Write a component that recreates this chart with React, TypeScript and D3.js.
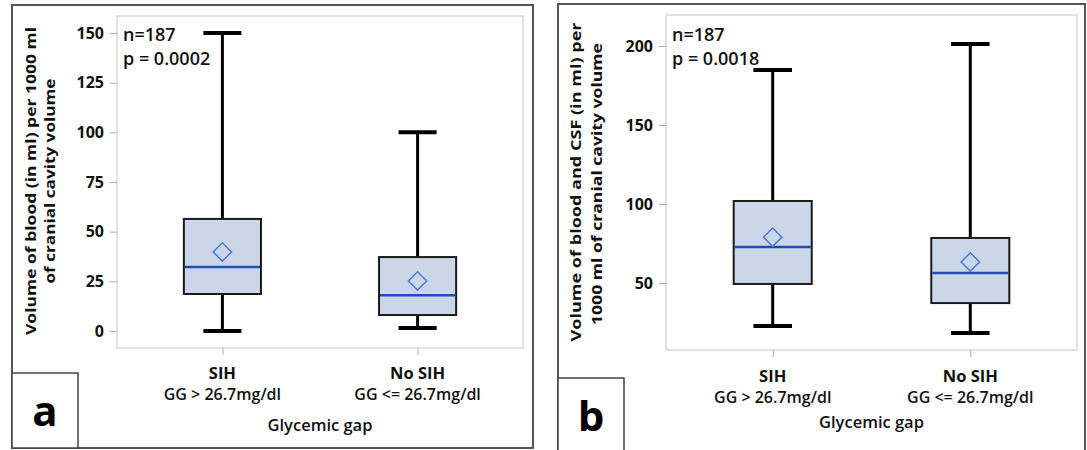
import { useEffect, useRef } from "react";
import * as d3 from "d3";

// groups on the x axis
const groups = ["SIH", "No SIH"];
const groupSub = ["GG > 26.7mg/dl", "GG <= 26.7mg/dl"];

// panel a: blood volume per 1000 ml of cranial cavity volume
const bloodMin = [0, 1.5];
const bloodQ1 = [18.6, 8];
const bloodMedian = [32.2, 18];
const bloodQ3 = [56.4, 37.2];
const bloodMax = [150, 100];
const bloodMean = [39.8, 25.2];
const bloodTicks = [0, 25, 50, 75, 100, 125, 150];

// panel b: blood and CSF volume per 1000 ml of cranial cavity volume
const csfMin = [22.8, 18.4];
const csfQ1 = [49.4, 37.3];
const csfMedian = [72.8, 56.3];
const csfQ3 = [101.9, 78.5];
const csfMax = [184.8, 201.3];
const csfMean = [79, 63.3];
const csfTicks = [50, 100, 150, 200];

const font = "'Open Sans', 'Noto Sans', sans-serif";

export default function App() {
  const ref = useRef<SVGSVGElement>(null);

  useEffect(() => {
    const width = 1087;
    const height = 450;

    const svg = d3.select(ref.current)
      .attr("viewBox", [0, 0, width, height] as any)
      .attr("width", width)
      .attr("height", height)
      .style("font-family", font);

    svg.selectAll("*").remove();

    svg.append("rect")
      .attr("width", width)
      .attr("height", height)
      .attr("fill", "white");

    const panels = [
      {
        frame: { x: 12, y: 5, w: 521, h: 443 },
        plot: { left: 117, top: 16, right: 523, bottom: 348 },
        domain: [-8.6, 158.6],
        ticks: bloodTicks,
        min: bloodMin, q1: bloodQ1, median: bloodMedian, q3: bloodQ3, max: bloodMax, mean: bloodMean,
        title: ["Volume of blood (in ml) per 1000 ml", "of cranial cavity volume"],
        titleX: [36, 55],
        titleY: [181, 181],
        titleLen: [308, 205],
        p: "p = 0.0002",
        letter: "a",
        labelBox: { x: 12, y: 373, w: 66, h: 75 },
        catY: [379, 400],
        gapY: 431
      },
      {
        frame: { x: 558, y: 4, w: 527, h: 450 },
        plot: { left: 666, top: 15, right: 1077, bottom: 350 },
        domain: [7.6, 219.6],
        ticks: csfTicks,
        min: csfMin, q1: csfQ1, median: csfMedian, q3: csfQ3, max: csfMax, mean: csfMean,
        title: ["Volume of blood and CSF (in ml) per", "1000 ml of cranial cavity volume"],
        titleX: [581, 602],
        titleY: [182, 184],
        titleLen: [319, 282],
        p: "p = 0.0018",
        letter: "b",
        labelBox: { x: 558, y: 378, w: 66, h: 80 },
        catY: [382, 403],
        gapY: 428
      }
    ];

    panels.forEach(pn => {
      const { plot } = pn;
      const g = svg.append("g");

      const x = d3.scalePoint(groups, [plot.left, plot.right]).padding(0.54);
      const y = d3.scaleLinear(pn.domain, [plot.bottom, plot.top]);
      const step = x.step();
      const boxW = step * 0.395;
      const capW = step * 0.195;

      // outer frame
      g.append("rect")
        .attr("x", pn.frame.x)
        .attr("y", pn.frame.y)
        .attr("width", pn.frame.w)
        .attr("height", pn.frame.h)
        .attr("fill", "none")
        .attr("stroke", "#555")
        .attr("stroke-width", 2);

      // plot area border
      g.append("rect")
        .attr("x", plot.left)
        .attr("y", plot.top)
        .attr("width", plot.right - plot.left)
        .attr("height", plot.bottom - plot.top)
        .attr("fill", "none")
        .attr("stroke", "#d8d8d8")
        .attr("stroke-width", 1.5);

      // y axis
      g.append("g")
        .attr("transform", `translate(${plot.left},0)`)
        .call(d3.axisLeft(y).tickValues(pn.ticks).tickSize(7).tickPadding(6).tickSizeOuter(0))
        .call(a => a.select(".domain").remove())
        .call(a => a.selectAll(".tick line").attr("stroke", "#aaa"))
        .call(a => a.selectAll(".tick text")
          .attr("fill", "#111")
          .attr("font-family", font)
          .attr("font-size", 16)
          .attr("font-weight", 700));

      // x axis ticks
      g.append("g")
        .attr("transform", `translate(0,${plot.bottom})`)
        .call(d3.axisBottom(x).tickSize(7).tickFormat(() => ""))
        .call(a => a.select(".domain").remove())
        .call(a => a.selectAll(".tick line").attr("stroke", "#aaa"));

      // category labels
      groups.forEach((name, i) => {
        g.append("text")
          .attr("x", x(name)!)
          .attr("y", pn.catY[0])
          .attr("text-anchor", "middle")
          .attr("font-size", 16.5)
          .attr("font-weight", 700)
          .attr("fill", "#111")
          .text(name);
        g.append("text")
          .attr("x", x(name)!)
          .attr("y", pn.catY[1])
          .attr("text-anchor", "middle")
          .attr("font-size", 16)
          .attr("font-weight", 600)
          .attr("fill", "#111")
          .text(groupSub[i]);
      });

      g.append("text")
        .attr("x", (plot.left + plot.right) / 2)
        .attr("y", pn.gapY)
        .attr("text-anchor", "middle")
        .attr("font-size", 16.5)
        .attr("font-weight", 600)
        .attr("fill", "#111")
        .text("Glycemic gap");

      // y axis title
      pn.title.forEach((line, i) => {
        g.append("text")
          .attr("transform", `translate(${pn.titleX[i]},${pn.titleY[i]}) rotate(-90)`)
          .attr("text-anchor", "middle")
          .attr("font-size", 15)
          .attr("font-weight", 700)
          .attr("fill", "#111")
          .attr("textLength", pn.titleLen[i])
          .attr("lengthAdjust", "spacingAndGlyphs")
          .text(line);
      });

      // boxes
      groups.forEach((name, i) => {
        const cx = x(name)!;
        // whiskers
        g.append("line")
          .attr("x1", cx).attr("x2", cx)
          .attr("y1", y(pn.max[i])).attr("y2", y(pn.q3[i]))
          .attr("stroke", "#000").attr("stroke-width", 3);
        g.append("line")
          .attr("x1", cx).attr("x2", cx)
          .attr("y1", y(pn.q1[i])).attr("y2", y(pn.min[i]))
          .attr("stroke", "#000").attr("stroke-width", 3);
        [pn.max[i], pn.min[i]].forEach(v => {
          g.append("line")
            .attr("x1", cx - capW / 2).attr("x2", cx + capW / 2)
            .attr("y1", y(v)).attr("y2", y(v))
            .attr("stroke", "#000").attr("stroke-width", 4);
        });
        g.append("rect")
          .attr("x", cx - boxW / 2)
          .attr("y", y(pn.q3[i]))
          .attr("width", boxW)
          .attr("height", y(pn.q1[i]) - y(pn.q3[i]))
          .attr("fill", "#cbd7e8")
          .attr("stroke", "#1a1a1a")
          .attr("stroke-width", 2);
        g.append("line")
          .attr("x1", cx - boxW / 2 + 1).attr("x2", cx + boxW / 2 - 1)
          .attr("y1", y(pn.median[i])).attr("y2", y(pn.median[i]))
          .attr("stroke", "#1f4fae").attr("stroke-width", 2.5);
        g.append("path")
          .attr("transform", `translate(${cx},${y(pn.mean[i])}) rotate(45)`)
          .attr("d", "M-6.5,-6.5h13v13h-13z")
          .attr("fill", "none")
          .attr("stroke", "#4d7bd1")
          .attr("stroke-width", 1.5);
      });

      // annotations
      g.append("text")
        .attr("x", plot.left + 6)
        .attr("y", 41)
        .attr("font-size", 18)
        .attr("font-weight", 600)
        .attr("fill", "#111")
        .text("n=187");
      g.append("text")
        .attr("x", plot.left + 6)
        .attr("y", 65)
        .attr("font-size", 18)
        .attr("font-weight", 600)
        .attr("fill", "#111")
        .text(pn.p);

      // panel letter box
      g.append("rect")
        .attr("x", pn.labelBox.x)
        .attr("y", pn.labelBox.y)
        .attr("width", pn.labelBox.w)
        .attr("height", pn.labelBox.h)
        .attr("fill", "white")
        .attr("stroke", "#444")
        .attr("stroke-width", 1.5);
      g.append("text")
        .attr("x", pn.labelBox.x + pn.labelBox.w / 2)
        .attr("y", pn.labelBox.y + 53)
        .attr("text-anchor", "middle")
        .attr("font-size", 42)
        .attr("font-weight", 700)
        .attr("fill", "#000")
        .text(pn.letter);
    });
  }, []);

  return <svg ref={ref} style={{ position: "absolute", left: 0, top: 0 }}></svg>;
}
